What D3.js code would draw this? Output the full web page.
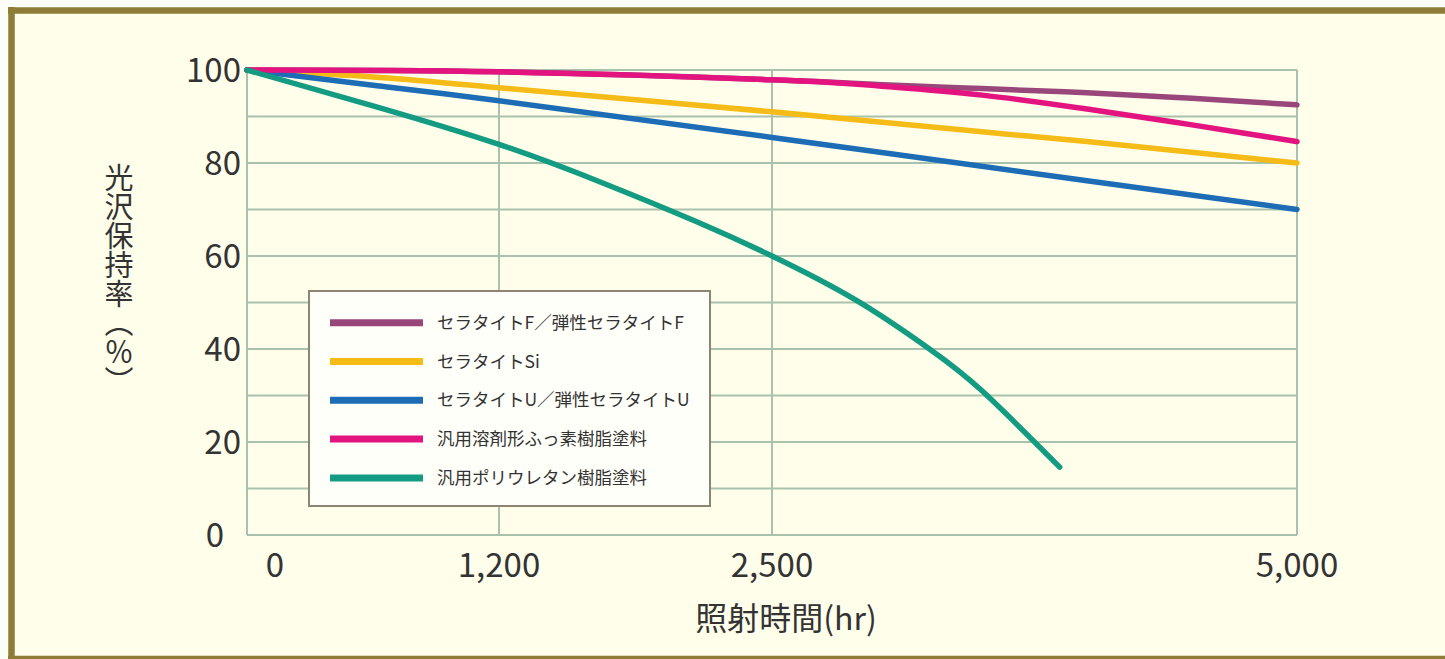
<!DOCTYPE html>
<html lang="ja">
<head>
<meta charset="UTF-8">
<title>光沢保持率</title>
<script src="https://d3js.org/d3.v7.min.js"></script>
<style>
    html, body { margin: 0; padding: 0; overflow: hidden; background: #fdfdf8; }
    svg { display: block; overflow: hidden; }
    text { font-family: "Noto Sans CJK JP", "Noto Sans", sans-serif; fill: #333; }
</style>
</head>
<body>
<svg id="chart"></svg>
<script>
// 凡例の名前
const seriesNames = [
    "セラタイトF／弾性セラタイトF",
    "セラタイトSi",
    "セラタイトU／弾性セラタイトU",
    "汎用溶剤形ふっ素樹脂塗料",
    "汎用ポリウレタン樹脂塗料"
];
const seriesColors = ["#99477a", "#f5bb17", "#1c6db5", "#e3147f", "#139c82"];

// 各系列の値（照射時間 hr / 光沢保持率 %）
const fHours = [0, 1200, 2500, 3000, 3500, 4000, 4500, 5000];
const fValues = [100, 99.6, 97.9, 96.9, 96.0, 95.1, 93.9, 92.5];
const siHours = [0, 600, 1200, 2500, 3500, 4000, 5000];
const siValues = [100, 98.5, 96.2, 91, 86.7, 84.6, 80];
const uHours = [0, 600, 1200, 2500, 4000, 5000];
const uValues = [100, 96.7, 93.4, 85.5, 76.2, 70];
const fluoroHours = [0, 1200, 2500, 3000, 3500, 4000, 4500, 5000];
const fluoroValues = [100, 99.6, 97.9, 96.6, 94.6, 91.6, 88.2, 84.6];
const puHours = [0, 600, 1200, 1700, 2150, 2500, 2900, 3250, 3500, 3870];
const puValues = [100, 92.3, 84, 75.6, 67.2, 60, 50.5, 40, 31, 14.6];

// 軸の目盛
const xTicks = [0, 1200, 2500, 5000];
const yTicks = [0, 20, 40, 60, 80, 100];
const yGrid = [0, 10, 20, 30, 40, 50, 60, 70, 80, 90, 100];

const width = 1445, height = 659;
const svg = d3.select("#chart").attr("width", width).attr("height", height);

// 枠（上・左・下のみ見える）
svg.append("rect")
   .attr("x", 11).attr("y", 10)
   .attr("width", width - 11).attr("height", height - 10)
   .attr("fill", "#fffeeb");

const frame = svg.append("g")
   .attr("stroke", "#8e7c37")
   .attr("stroke-width", 6.5);
frame.append("line").attr("x1", 8).attr("x2", width).attr("y1", 10.5).attr("y2", 10.5);
frame.append("line").attr("x1", 11.5).attr("x2", 11.5).attr("y1", 7).attr("y2", height);
frame.append("line").attr("x1", 8).attr("x2", width).attr("y1", 659).attr("y2", 659);

const x = d3.scaleLinear().domain([0, 5000]).range([247, 1297]);
const y = d3.scaleLinear().domain([0, 100]).range([535, 70]);

const gridColor = "#a9c2ae";

// 横の補助線
svg.append("g")
   .selectAll("line")
   .data(yGrid)
   .join("line")
   .attr("x1", x(0)).attr("x2", x(5000))
   .attr("y1", d => y(d)).attr("y2", d => y(d))
   .attr("stroke", gridColor)
   .attr("stroke-width", 2);

// 縦の補助線
svg.append("g")
   .selectAll("line")
   .data(xTicks)
   .join("line")
   .attr("x1", d => x(d)).attr("x2", d => x(d))
   .attr("y1", y(0)).attr("y2", y(100))
   .attr("stroke", gridColor)
   .attr("stroke-width", 2);

// Y軸の目盛ラベル
svg.append("g")
   .selectAll("text")
   .data(yTicks)
   .join("text")
   .attr("x", d => d === 0 ? 224 : 241)
   .attr("y", d => y(d))
   .attr("dy", "0.36em")
   .attr("text-anchor", "end")
   .attr("font-size", 33)
   .text(d => d);

// X軸の目盛ラベル
svg.append("g")
   .selectAll("text")
   .data(xTicks)
   .join("text")
   .attr("x", d => x(d) + (d === 0 ? 28 : 0))
   .attr("y", 577)
   .attr("text-anchor", "middle")
   .attr("font-size", 33)
   .text(d => d3.format(",")(d));

// 軸タイトル
svg.append("text")
   .attr("x", 786).attr("y", 630)
   .attr("text-anchor", "middle")
   .attr("font-size", 32)
   .text("照射時間(hr)");

svg.append("text")
   .attr("x", 119).attr("y", 163)
   .attr("font-size", 29)
   .style("writing-mode", "vertical-rl")
   .text("光沢保持率（％）");

// 線
const series = [
    { hours: fHours, values: fValues },
    { hours: siHours, values: siValues },
    { hours: uHours, values: uValues },
    { hours: fluoroHours, values: fluoroValues },
    { hours: puHours, values: puValues }
];

const line = d3.line()
   .x(d => x(d[0]))
   .y(d => y(d[1]))
   .curve(d3.curveNatural);

svg.append("g")
   .selectAll("path")
   .data(series)
   .join("path")
   .attr("d", s => line(s.hours.map((h, i) => [h, s.values[i]])))
   .attr("fill", "none")
   .attr("stroke", (s, i) => seriesColors[i])
   .attr("stroke-width", 5.5)
   .attr("stroke-linecap", "round");

// 凡例
const legend = svg.append("g");
legend.append("rect")
   .attr("x", 309).attr("y", 291)
   .attr("width", 401).attr("height", 215)
   .attr("fill", "#fffffa")
   .attr("stroke", "#8d8473")
   .attr("stroke-width", 2);

const rows = legend.selectAll("g")
   .data(seriesNames)
   .join("g")
   .attr("transform", (d, i) => `translate(0, ${322.7 + i * 38.8})`);

rows.append("line")
   .attr("x1", 330).attr("x2", 423)
   .attr("stroke", (d, i) => seriesColors[i])
   .attr("stroke-width", 7);

rows.append("text")
   .attr("x", 437)
   .attr("dy", "0.35em")
   .attr("font-size", 17.5)
   .text(d => d);
</script>
</body>
</html>
